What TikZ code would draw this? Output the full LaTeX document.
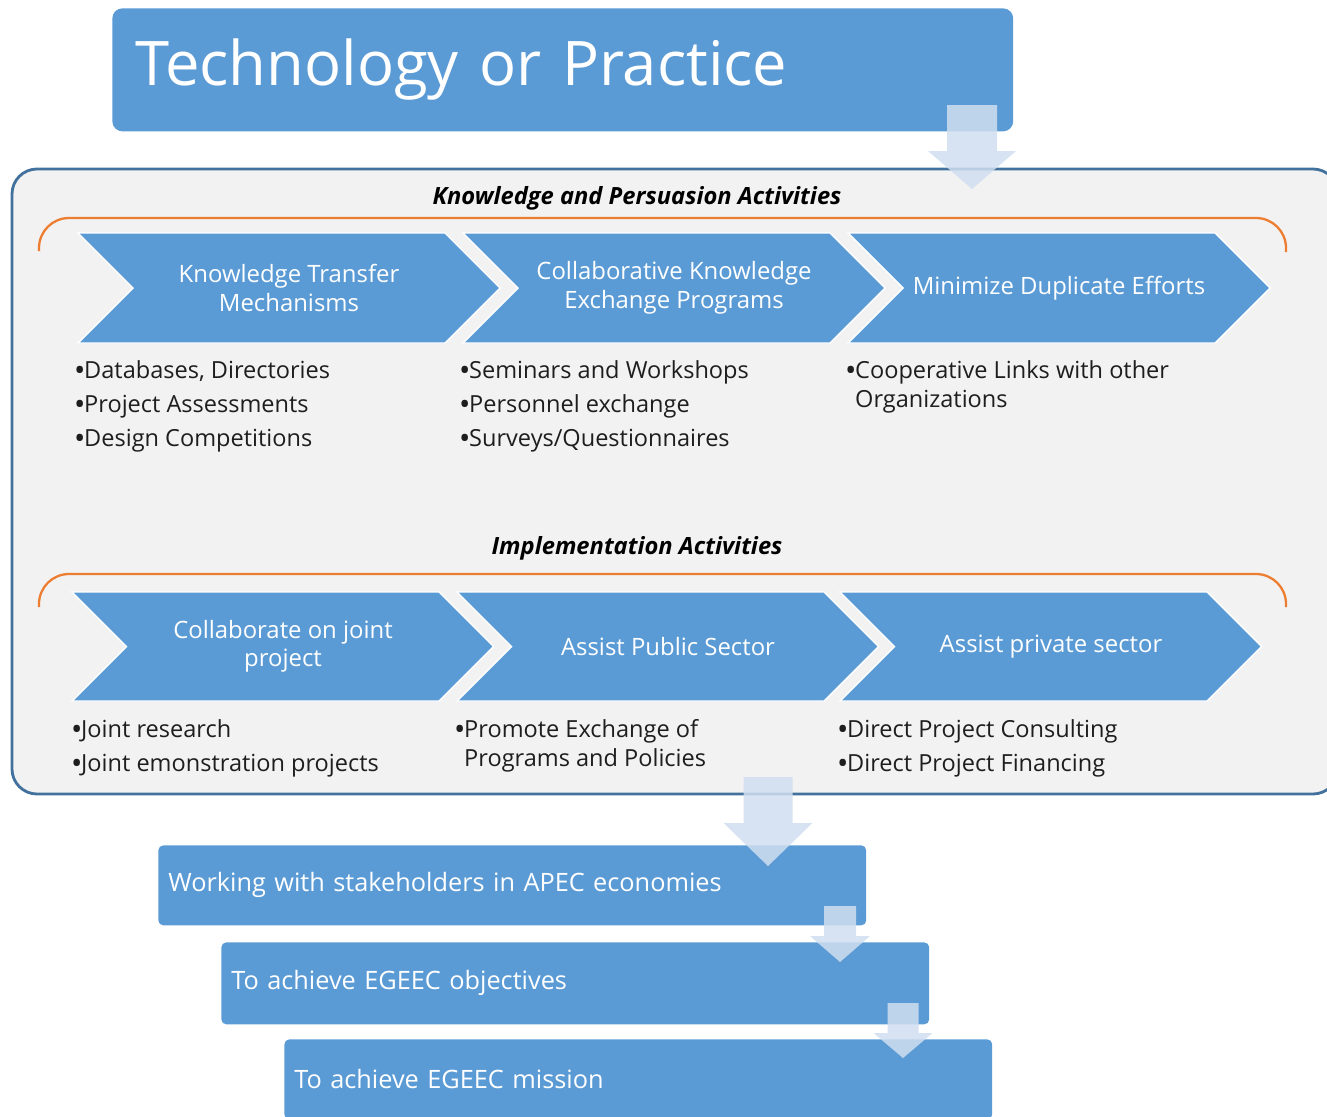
\documentclass[tikz,border=0pt]{standalone}
\usepackage{fontspec}
\setmainfont{Open Sans}
\usetikzlibrary{positioning}

\definecolor{smartblue}{HTML}{5B9BD5}
\definecolor{frameblue}{HTML}{41719C}
\definecolor{panelgray}{HTML}{F2F2F2}
\definecolor{bracketorange}{HTML}{ED7D31}
\definecolor{arrowblue}{HTML}{D0DEF0}
\definecolor{bullettext}{HTML}{1E1E1E}

\tikzset{
  chevfill/.style={fill=smartblue, draw=white, line width=0.8pt},
  chevtext/.style={text=white, align=center, font=\fontsize{13.6}{16.2}\selectfont},
  bullet/.style={anchor=base west, inner sep=0pt, text=bullettext, font=\fontsize{13.4}{16}\selectfont},
  heading/.style={font=\bfseries\itshape\fontsize{13.5}{16}\selectfont, inner sep=0pt},
  bracket/.style={draw=bracketorange, line width=1.3pt, rounded corners=0.6cm},
  stepbox/.style={fill=smartblue, rounded corners=0.1cm, anchor=north west, text=white,
    minimum width=14.16cm, minimum height=1.6cm, text width=13.76cm, inner xsep=0.2cm,
    align=left, font=\fontsize{14.4}{17}\selectfont},
  blockarrow/.style={fill=arrowblue, fill opacity=0.85}
}

% bullet mark
\newcommand{\bul}{{\bfseries•}}

% chevron: left x, top y, half height, name, text
\newcommand{\chevron}[5]{%
  \fill[chevfill] (#1,#2) -- ++(367,0) -- ++(#3,#3) -- ++(-#3,#3) -- ++(-367,0) -- ++(#3,-#3) -- cycle;
  \node[chevtext] (#4) at (#1+211,#2+#3) {#5};}

% down arrow: top centre, half shaft, shaft length, half head, head length
\newcommand{\blockarrow}[5]{%
  \fill[blockarrow] (#1) ++(-#2,0) -- ++(2*#2,0) -- ++(0,#3) -- ++(#4-#2,0) -- ++(-#4,#5)
    -- ++(-#4,-#5) -- ++(#4-#2,0) -- cycle;}

\begin{document}
\begin{tikzpicture}[x=0.02cm, y=-0.02cm]
  \useasboundingbox (0,0) rectangle (1327,1116);
  \clip (0,0) rectangle (1327,1116);

  % title
  \node[fill=smartblue, rounded corners=0.2cm, anchor=north west, minimum width=18.02cm,
    minimum height=2.46cm, text width=17.1cm, inner xsep=0.46cm, align=left, text=white,
    font=\fontsize{35}{40}\selectfont] (title) at (112,8) {Technology or Practice};

  % panel with the two rows
  \draw[frameblue, fill=panelgray, line width=1.6pt, rounded corners=0.5cm] (12,169) rectangle (1338,794);
  \coordinate (a1) at (972,105);
  \blockarrow{a1}{25}{46}{44}{38}

  \node[heading] (kpa) at (637,198) {Knowledge and Persuasion Activities};
  \draw[bracket] (39,251) -- (39,218) -- (1286,218) -- (1286,252);

  \chevron{78}{233}{55}{ktm}{Knowledge Transfer\\Mechanisms}
  \chevron{463}{233}{55}{cke}{Collaborative Knowledge\\Exchange Programs}
  \chevron{848}{233}{55}{mde}{Minimize Duplicate Efforts}

  \node[bullet] (b11) at (75,378) {\bul Databases, Directories};
  \node[bullet] (b12) at (75,412) {\bul Project Assessments};
  \node[bullet] (b13) at (75,446) {\bul Design Competitions};
  \node[bullet] (b21) at (460,378) {\bul Seminars and Workshops};
  \node[bullet] (b22) at (460,412) {\bul Personnel exchange};
  \node[bullet] (b23) at (460,446) {\bul Surveys/Questionnaires};
  \node[bullet] (b31) at (846,378) {\bul Cooperative Links with other};
  \node[bullet] (b32) at (846,407) {\phantom{\bul}Organizations};

  \node[heading] (ia) at (637,548) {Implementation Activities};
  \draw[bracket] (39,607) -- (39,574) -- (1286,574) -- (1286,607);

  \chevron{72}{592}{54.5}{coj}{Collaborate on joint\\project}
  \chevron{457}{592}{54.5}{aps}{Assist Public Sector}
  \chevron{840}{592}{54.5}{apr}{Assist private sector}

  \node[bullet] (c11) at (72,737) {\bul Joint research};
  \node[bullet] (c12) at (72,771) {\bul Joint emonstration projects};
  \node[bullet] (c21) at (455,737) {\bul Promote Exchange of};
  \node[bullet] (c22) at (455,766) {\phantom{\bul}Programs and Policies};
  \node[bullet] (c31) at (838,737) {\bul Direct Project Consulting};
  \node[bullet] (c32) at (838,771) {\bul Direct Project Financing};

  % outcome steps
  \node[stepbox] (w1) at (158,845) {Working with stakeholders in APEC economies};
  \coordinate (a2) at (768,777);
  \blockarrow{a2}{24.5}{46}{44.5}{43}
  \node[stepbox, minimum height=1.64cm] (w2) at (221,942) {To achieve EGEEC objectives};
  \coordinate (a3) at (840,906);
  \blockarrow{a3}{16}{30}{30}{26}
  \node[stepbox] (w3) at (284,1039) {To achieve EGEEC mission};
  \coordinate (a4) at (903,1003);
  \blockarrow{a4}{15.5}{30}{29.5}{25}
\end{tikzpicture}
\end{document}
